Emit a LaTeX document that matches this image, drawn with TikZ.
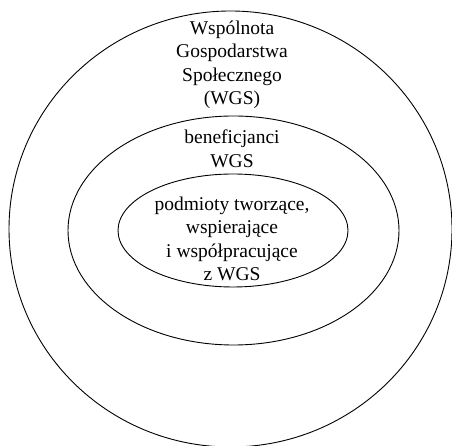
\documentclass[tikz,border=0pt]{standalone}
\usepackage{fontspec}
\setmainfont{Liberation Serif}
\usetikzlibrary{shapes.geometric}
\begin{document}
\begin{tikzpicture}[x=1pt,y=1pt,
  ring/.style={draw,ellipse,line width=0.9pt,inner sep=0pt},
  lbl/.style={align=center,font=\fontsize{19.5}{23.5}\selectfont,inner sep=0pt}]
\useasboundingbox (0,0) rectangle (452,446);
\node[ring,minimum width=443,minimum height=436] (outer) at (230.5,217) {};
\node[ring,minimum width=331,minimum height=229] (middle) at (233.5,215.5) {};
\node[ring,minimum width=230,minimum height=113] (inner) at (233,215.5) {};
\node[lbl] (toptext) at (232,381) {Wspólnota\\Gospodarstwa\\Społecznego\\(WGS)};
\node[lbl] (midtext) at (232,297) {beneficjanci\\WGS};
\node[lbl] (intext) at (232,207) {podmioty tworzące,\\wspierające\\i współpracujące\\z WGS};
\end{tikzpicture}
\end{document}
